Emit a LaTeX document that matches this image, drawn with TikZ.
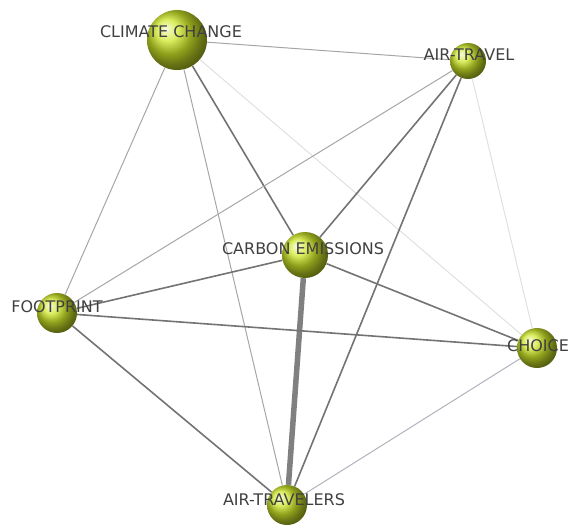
\documentclass[tikz,border=0pt]{standalone}
\usepackage{fontspec}
\setmainfont{DejaVu Sans}

\begin{document}
\begin{tikzpicture}[x=1pt,y=-1pt,
  ball/.style={circle,inner sep=0pt,shading=ball,ball color={rgb,255:red,205;green,230;blue,40}},
  lbl/.style={text=black!75,font=\fontsize{16}{18}\selectfont,inner sep=0pt},
  faint/.style={draw=black!12,line width=1pt},
  light/.style={draw=black!35,line width=1pt},
  dark/.style={draw=black!55,line width=1.6pt},
  heavy/.style={draw=black!50,line width=5.5pt}]
\useasboundingbox (0,0) rectangle (569,525);
\node[ball,minimum size=60pt] (cc) at (177,40) {};
\node[ball,minimum size=36pt] (at) at (468,61) {};
\node[ball,minimum size=46pt] (ce) at (305,255) {};
\node[ball,minimum size=40pt] (fp) at (57,313) {};
\node[ball,minimum size=40pt] (ch) at (537,348) {};
\node[ball,minimum size=40pt] (ats) at (287,505) {};
\draw[light] (cc) -- (at);
\draw[dark] (cc) -- (ce);
\draw[light] (cc) -- (fp);
\draw[light] (cc) -- (ats);
\draw[faint] (cc) -- (ch);
\draw[dark] (at) -- (ce);
\draw[light] (at) -- (fp);
\draw[dark] (at) -- (ats);
\draw[faint] (at) -- (ch);
\draw[dark] (ce) -- (fp);
\draw[heavy] (ce) -- (ats);
\draw[dark] (ce) -- (ch);
\draw[dark] (fp) -- (ch);
\draw[dark] (fp) -- (ats);
\draw[draw=blue!15!black!30,line width=1pt] (ch) -- (ats);
\node[lbl] (cc-l) at (171,32) {CLIMATE CHANGE};
\node[lbl] (at-l) at (469,55) {AIR-TRAVEL};
\node[lbl] (ce-l) at (303,249) {CARBON EMISSIONS};
\node[lbl] (fp-l) at (57,307) {FOOTPRINT};
\node[lbl] (ch-l) at (538,346) {CHOICE};
\node[lbl] (ats-l) at (284,500) {AIR-TRAVELERS};
\end{tikzpicture}
\end{document}
